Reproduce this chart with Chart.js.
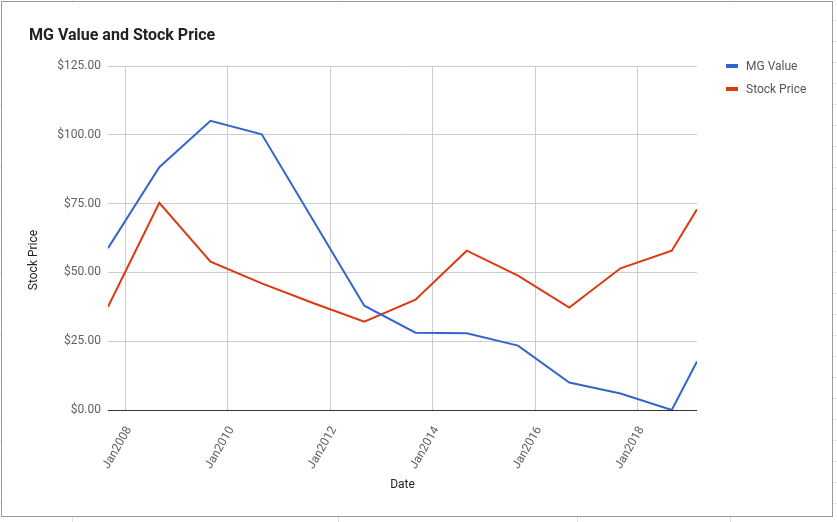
<!DOCTYPE html>
<html>
<head>
<meta charset="utf-8">
<script src="https://cdn.jsdelivr.net/npm/chart.js@4.4.1/dist/chart.umd.min.js"></script>
<style>
  html, body { margin: 0; padding: 0; }
  body {
    width: 837px; height: 522px; position: relative; overflow: hidden;
    font-family: Roboto, Arial, sans-serif;
    background: #fff repeating-linear-gradient(to bottom, transparent 0 20px, #e2e2e2 20px 21px);
  }
  .col { position: absolute; top: 0; bottom: 0; width: 1px; background: #e2e2e2; }
  #frame {
    position: absolute; left: 1px; top: 1px; width: 830px; height: 514px;
    border: 1px solid #9a9a9a; background: #fff;
  }
  #wrap { position: absolute; left: 0; top: 0; width: 837px; height: 522px; }
  #title {
    position: absolute; left: 29px; top: 25px;
    font: bold 16px Roboto, sans-serif; color: #222;
  }
  .leg { position: absolute; left: 726px; font: 12px Roboto, sans-serif; color: #555; }
  .leg i { position: absolute; left: 0; top: 7px; width: 12px; height: 4px; }
  .leg span { position: absolute; left: 20px; top: 0; white-space: nowrap; line-height: 18px; }
</style>
</head>
<body>
<div class="col" style="left:72px"></div>
<div class="col" style="left:338px"></div>
<div class="col" style="left:577px"></div>
<div class="col" style="left:730px"></div>
<div id="frame"></div>
<div id="wrap"><canvas id="chart"></canvas></div>
<div id="title">MG Value and Stock Price</div>
<div class="leg" style="top:57px"><i style="background:#3366cc"></i><span>MG Value</span></div>
<div class="leg" style="top:80px"><i style="background:#dc3912"></i><span>Stock Price</span></div>
<script>
'use strict';

// ─── Data ────────────────────────────────────────────────────────────────────
const dates      = ['2007-09-01', '2008-09-01', '2009-09-01', '2010-09-01', '2011-09-01',
                    '2012-09-01', '2013-09-01', '2014-09-01', '2015-09-01', '2016-09-01',
                    '2017-09-01', '2018-09-01', '2019-02-28'];
const mgValue    = [58.8, 88.2, 105.1, 100.2, 69.0, 37.9, 28.1, 27.9, 23.4, 10.0, 6.0, 0.0, 17.6];
const stockPrice = [37.5, 75.3, 53.9, 46.0, 38.9, 32.1, 40.1, 57.9, 48.8, 37.2, 51.5, 57.9, 72.9];
const xTickYears = [2008, 2010, 2012, 2014, 2016, 2018];
const yTicks     = [0, 25, 50, 75, 100, 125];

// date string -> fractional year
function toYear(s) {
  const d = new Date(s + 'T00:00:00Z');
  const y = d.getUTCFullYear();
  const start = Date.UTC(y, 0, 1), end = Date.UTC(y + 1, 0, 1);
  return y + (d.getTime() - start) / (end - start);
}
const xs = dates.map(toYear);

const FONT = 'Roboto';
const TICK_COLOR = '#616161';

// ─── Y axis title, sits a bit below the plot's middle as in the original ─────
const yTitlePlugin = {
  id: 'yTitle',
  afterDraw(chart) {
    const { ctx, chartArea } = chart;
    ctx.save();
    ctx.translate(34, (chartArea.top + chartArea.bottom) / 2 + 22);
    ctx.rotate(-Math.PI / 2);
    ctx.font = '12px ' + FONT;
    ctx.fillStyle = '#222';
    ctx.textAlign = 'center';
    ctx.textBaseline = 'middle';
    ctx.fillText('Stock Price', 0, 0);
    ctx.restore();
  },
};

new Chart(document.getElementById('chart'), {
  type: 'line',
  data: {
    datasets: [
      {
        label: 'MG Value',
        data: xs.map((x, i) => ({ x, y: mgValue[i] })),
        borderColor: '#3366cc',
        borderWidth: 2,
        pointRadius: 0,
        tension: 0,
      },
      {
        label: 'Stock Price',
        data: xs.map((x, i) => ({ x, y: stockPrice[i] })),
        borderColor: '#dc3912',
        borderWidth: 2,
        pointRadius: 0,
        tension: 0,
      },
    ],
  },
  plugins: [yTitlePlugin],
  options: {
    animation: false,
    responsive: true,
    maintainAspectRatio: false,
    layout: { padding: { left: 0, right: 140, top: 66, bottom: 0 } },
    plugins: {
      legend:  { display: false },
      tooltip: { enabled: false },
    },
    scales: {
      x: {
        type: 'linear',
        min: xs[0],
        max: xs[xs.length - 1],
        afterBuildTicks: (s) => { s.ticks = xTickYears.map(v => ({ value: v })); },
        afterFit: (s) => { s.height = 112; },
        grid: {
          color: (c) => (c.tick && xTickYears.includes(c.tick.value) ? '#cccccc' : 'rgba(0,0,0,0)'),
          drawTicks: false,
        },
        border: { display: false },
        ticks: {
          autoSkip: false,
          maxRotation: 60,
          minRotation: 60,
          padding: 14,
          labelOffset: 4,
          color: TICK_COLOR,
          font: { family: FONT, size: 12 },
          callback: (v) => 'Jan' + v,
        },
        title: {
          display: true,
          text: 'Date',
          color: '#222',
          font: { family: FONT, size: 12 },
          padding: { top: 0, bottom: 30 },
        },
      },
      y: {
        min: 0,
        max: 125,
        afterBuildTicks: (s) => { s.ticks = yTicks.map(v => ({ value: v })); },
        afterFit: (s) => { s.width = 108; },
        grid: {
          color: (c) => (c.tick && c.tick.value === 0 ? '#333333' : '#cccccc'),
          drawTicks: false,
        },
        border: { display: false },
        ticks: {
          padding: 7,
          color: TICK_COLOR,
          font: { family: FONT, size: 12 },
          callback: (v) => '$' + v.toFixed(2),
        },
      },
    },
  },
});
</script>
</body>
</html>
